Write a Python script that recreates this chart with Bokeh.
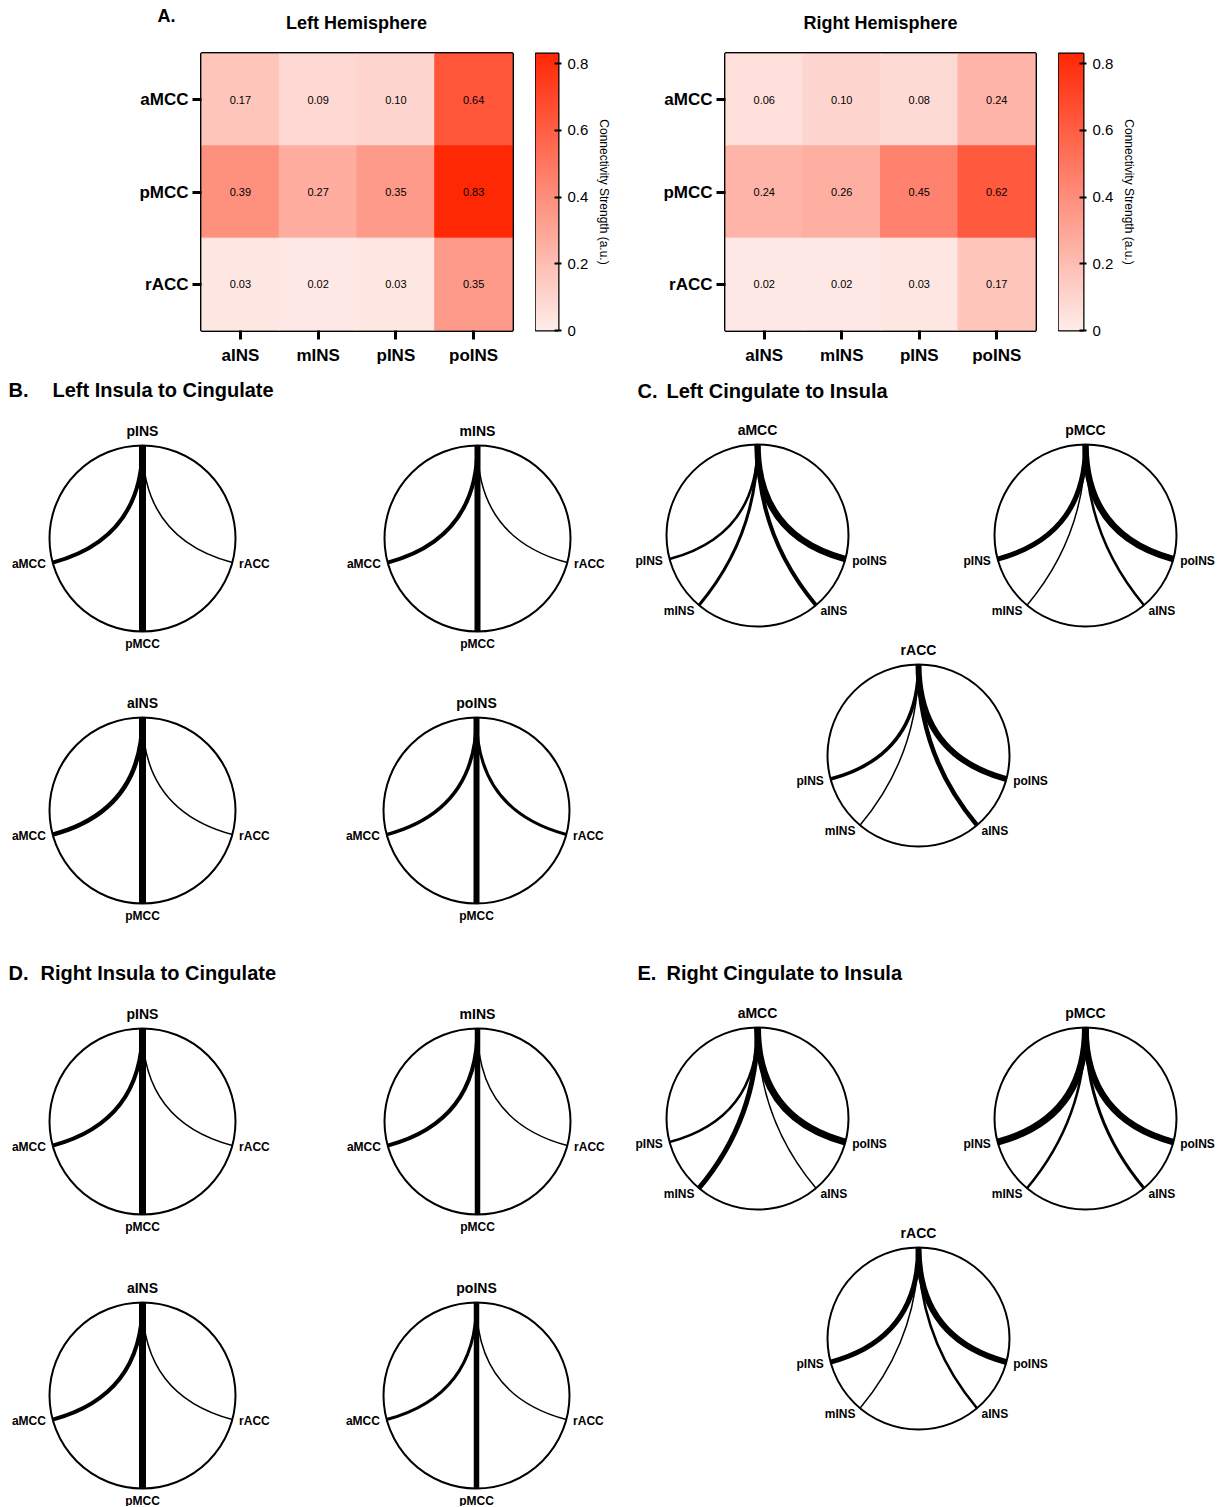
import math
import numpy as np
from bokeh.plotting import figure
from bokeh.models import (FactorRange, Range1d, LinearColorMapper, FixedTicker,
                          ColumnDataSource)
from bokeh.layouts import column, row
from bokeh.embed import file_html
from bokeh.resources import INLINE
from bokeh.core.properties import value

# ---------------- data ----------------
insula = ["aINS", "mINS", "pINS", "poINS"]
cingulate = ["aMCC", "pMCC", "rACC"]

left_aMCC = [0.17, 0.09, 0.10, 0.64]
left_pMCC = [0.39, 0.27, 0.35, 0.83]
left_rACC = [0.03, 0.02, 0.03, 0.35]
right_aMCC = [0.06, 0.10, 0.08, 0.24]
right_pMCC = [0.24, 0.26, 0.45, 0.62]
right_rACC = [0.02, 0.02, 0.03, 0.17]

cbar_ticks = [0, 0.2, 0.4, 0.6, 0.8]
cbar_max = 0.83

# chord line widths
ins_targets = ["aMCC", "pMCC", "rACC"]
cing_targets = ["pINS", "mINS", "aINS", "poINS"]

left_ins_sources = ["pINS", "mINS", "aINS", "poINS"]
left_ins_widths = [[4.0, 7.0, 1.5], [4.0, 6.0, 1.5], [4.5, 7.0, 1.5], [3.5, 6.0, 3.0]]
left_cing_sources = ["aMCC", "pMCC", "rACC"]
left_cing_widths = [[2.5, 3.0, 4.0, 6.5], [5.0, 1.5, 2.5, 6.5], [3.5, 1.5, 4.5, 6.0]]

right_ins_sources = ["pINS", "mINS", "aINS", "poINS"]
right_ins_widths = [[4.0, 7.0, 1.5], [4.0, 5.5, 1.5], [4.0, 7.0, 1.5], [3.0, 5.5, 1.5]]
right_cing_sources = ["aMCC", "pMCC", "rACC"]
right_cing_widths = [[2.5, 5.0, 1.5, 7.0], [7.0, 2.5, 3.0, 6.5], [5.0, 1.5, 2.5, 6.0]]

# ---------------- style / layout ----------------
FONT = "Liberation Sans"
PAGE_W = 1224
HEAD_H = 40
ROW_H = 332
CHORD_H = 1506 - HEAD_H - ROW_H

lo = np.array([254, 237, 234])
hi = np.array([255, 40, 5])
palette = ["#%02x%02x%02x" % tuple(int(round(c)) for c in lo + (hi - lo) * t)
           for t in np.linspace(0, 1, 256)]
mapper = LinearColorMapper(palette=palette, low=0, high=cbar_max)


def bare(p):
    p.grid.visible = False
    p.outline_line_color = None


# header with panel letter and heatmap titles
head = figure(width=PAGE_W, height=HEAD_H, x_range=Range1d(0, PAGE_W), y_range=Range1d(HEAD_H, 0),
              output_backend="svg", toolbar_location=None, min_border=0,
              x_axis_location=None, y_axis_location=None)
bare(head)
head.text(x=[157], y=[15], text=["A."], text_align="left", text_baseline="middle",
          text_font=value(FONT), text_font_size="18px", text_font_style="bold", text_color="black")
head.text(x=[356, 880], y=[22, 22], text=["Left Hemisphere", "Right Hemisphere"],
          text_align="center", text_baseline="middle", text_font=value(FONT),
          text_font_size="18px", text_font_style="bold", text_color="black")


def heatmap(rows, fig_w, fr_left, fr_w, fr_top, fr_h):
    d = dict(ins=[], cing=[], val=[], lab=[])
    for cname, vals in zip(cingulate, rows):
        for iname, v in zip(insula, vals):
            d["ins"].append(iname)
            d["cing"].append(cname)
            d["val"].append(v)
            d["lab"].append("%.2f" % v)
    src = ColumnDataSource(d)
    p = figure(width=fig_w, height=ROW_H, x_range=FactorRange(factors=insula),
               y_range=FactorRange(factors=cingulate[::-1]),
               output_backend="svg", toolbar_location=None,
               min_border_left=fr_left, min_border_right=fig_w - fr_left - fr_w,
               min_border_top=fr_top, min_border_bottom=ROW_H - fr_top - fr_h)
    p.rect(x="ins", y="cing", width=1, height=1, source=src,
           fill_color={"field": "val", "transform": mapper},
           line_color={"field": "val", "transform": mapper}, line_width=1)
    p.text(x="ins", y="cing", text="lab", source=src, text_align="center",
           text_baseline="middle", text_font=value(FONT), text_font_size="11px",
           text_color="black")
    p.grid.visible = False
    p.outline_line_color = "black"
    p.outline_line_width = 3
    for ax in (p.xaxis[0], p.yaxis[0]):
        ax.axis_line_color = None
        ax.major_tick_line_width = 3
        ax.major_tick_line_color = "black"
        ax.major_tick_out = 9
        ax.major_tick_in = 0
        ax.major_label_text_font = FONT
        ax.major_label_text_font_size = "17px"
        ax.major_label_text_font_style = "bold"
        ax.major_label_text_color = "black"
    p.xaxis.major_label_standoff = 6
    p.yaxis.major_label_standoff = 4
    return p


def colorbar(fig_w, fr_w, fr_top, fr_h):
    p = figure(width=fig_w, height=ROW_H, x_range=Range1d(0, 1), y_range=Range1d(0, cbar_max),
               x_axis_location=None, y_axis_location="right",
               output_backend="svg", toolbar_location=None,
               min_border_left=0, min_border_right=fig_w - fr_w,
               min_border_top=fr_top, min_border_bottom=ROW_H - fr_top - fr_h)
    p.image(image=[np.linspace(0, cbar_max, 256).reshape(256, 1)], x=0, y=0, dw=1,
            dh=cbar_max, color_mapper=mapper)
    p.grid.visible = False
    p.outline_line_color = "black"
    p.outline_line_width = 2
    ax = p.yaxis[0]
    ax.ticker = FixedTicker(ticks=cbar_ticks)
    ax.major_label_overrides = {0: "0"}
    ax.axis_line_color = None
    ax.major_tick_line_color = "black"
    ax.major_tick_line_width = 2
    ax.major_tick_in = 4
    ax.major_tick_out = 3
    ax.minor_tick_line_color = None
    ax.major_label_text_font = FONT
    ax.major_label_text_font_size = "15px"
    ax.major_label_text_color = "black"
    ax.major_label_standoff = 6
    ax.axis_label = "Connectivity Strength (a.u.)"
    ax.axis_label_text_font = FONT
    ax.axis_label_text_font_size = "12px"
    ax.axis_label_text_font_style = "normal"
    ax.axis_label_text_color = "black"
    ax.axis_label_standoff = 6
    return p


hm_left = heatmap([left_aMCC, left_pMCC, left_rACC], 535, 201, 311, 12, 281)
cb_left = colorbar(85, 23, 13, 280)
hm_right = heatmap([right_aMCC, right_pMCC, right_rACC], 438, 105, 310, 12, 281)
cb_right = colorbar(166, 25, 8, 282)

# ---------------- chord diagrams ----------------
pc = figure(width=PAGE_W, height=CHORD_H, x_range=Range1d(0, PAGE_W),
            y_range=Range1d(372 + CHORD_H, 372),
            output_backend="svg", toolbar_location=None, min_border=0,
            x_axis_location=None, y_axis_location=None)
bare(pc)

ins_angles = [195, 270, 345]
cing_angles = [195, 230, 310, 345]

panels = [
    ("B.", "Left Insula to Cingulate", (8, 389), (52, 389), left_ins_sources, ins_targets,
     ins_angles, left_ins_widths, [(142, 538), (477, 538), (142, 810), (476, 810)], 93),
    ("C.", "Left Cingulate to Insula", (637, 390), (666, 390), left_cing_sources, cing_targets,
     cing_angles, left_cing_widths, [(757, 535), (1085, 535), (918, 755)], 91),
    ("D.", "Right Insula to Cingulate", (8, 972), (40, 972), right_ins_sources, ins_targets,
     ins_angles, right_ins_widths, [(142, 1121), (477, 1121), (142, 1395), (476, 1395)], 93),
    ("E.", "Right Cingulate to Insula", (637, 972), (666, 972), right_cing_sources, cing_targets,
     cing_angles, right_cing_widths, [(757, 1118), (1085, 1118), (918, 1338)], 91),
]

ttl = dict(x=[], y=[], t=[])
top_lab = dict(x=[], y=[], t=[])
lab_l = dict(x=[], y=[], t=[])
lab_r = dict(x=[], y=[], t=[])
lab_c = dict(x=[], y=[], t=[])
chords = dict(x0=[], y0=[], x1=[], y1=[], cx=[], cy=[], lw=[])
circ = dict(x=[], y=[], d=[])

for letter, title, lpos, tpos, sources, targets, angles, widths, centers, R in panels:
    ttl["x"] += [lpos[0], tpos[0]]
    ttl["y"] += [lpos[1], tpos[1]]
    ttl["t"] += [letter, title]
    for src_name, wrow, (cx, cy) in zip(sources, widths, centers):
        circ["x"].append(cx); circ["y"].append(cy); circ["d"].append(2 * R)
        top_lab["x"].append(cx); top_lab["y"].append(cy - R - 15); top_lab["t"].append(src_name)
        for tname, ang, w in zip(targets, angles, wrow):
            a = math.radians(ang)
            chords["x0"].append(cx); chords["y0"].append(cy - R)
            chords["x1"].append(cx + R * math.cos(a)); chords["y1"].append(cy - R * math.sin(a))
            chords["cx"].append(cx); chords["cy"].append(cy)
            chords["lw"].append(w)
            if ang == 270:
                lab_c["x"].append(cx); lab_c["y"].append(cy + R + 12); lab_c["t"].append(tname)
            else:
                dd = R + 7
                lx = cx + dd * math.cos(a)
                ly = cy - dd * math.sin(a)
                tgt = lab_l if math.cos(a) < 0 else lab_r
                tgt["x"].append(lx); tgt["y"].append(ly); tgt["t"].append(tname)

pc.ellipse(x="x", y="y", width="d", height="d", source=ColumnDataSource(circ),
           fill_color=None, line_color="black", line_width=2)
pc.quadratic(x0="x0", y0="y0", x1="x1", y1="y1", cx="cx", cy="cy",
             source=ColumnDataSource(chords), line_color="black", line_width="lw")

pc.text(x="x", y="y", text="t", source=ColumnDataSource(ttl), text_align="left",
        text_baseline="middle", text_font=value(FONT), text_font_size="20px",
        text_font_style="bold", text_color="black")
pc.text(x="x", y="y", text="t", source=ColumnDataSource(top_lab), text_align="center",
        text_baseline="middle", text_font=value(FONT), text_font_size="14px",
        text_font_style="bold", text_color="black")
for dct, al in ((lab_l, "right"), (lab_r, "left"), (lab_c, "center")):
    pc.text(x="x", y="y", text="t", source=ColumnDataSource(dct), text_align=al,
            text_baseline="middle", text_font=value(FONT), text_font_size="12px",
            text_font_style="bold", text_color="black")

layout = column(head, row(hm_left, cb_left, hm_right, cb_right), pc)
open("out.html", "w").write(file_html(layout, INLINE))
